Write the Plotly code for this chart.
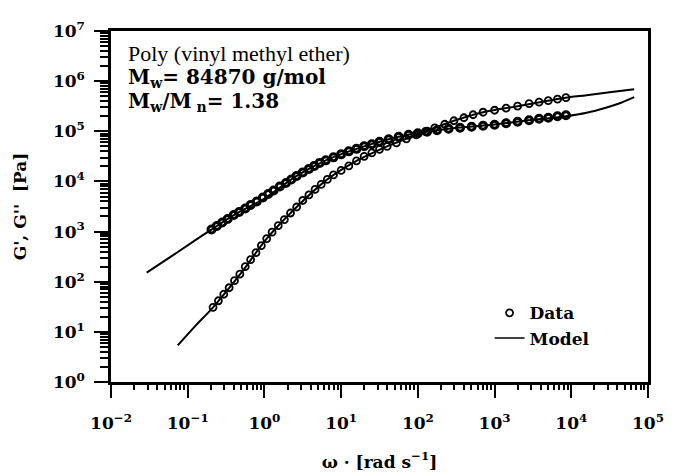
import numpy as np
import plotly.graph_objects as go

# ---- data (log10 values) ----
# G'' (loss modulus) data
loss_log_omega = [-0.69, -0.62, -0.55, -0.48, -0.40, -0.33, -0.25, -0.18, -0.10, -0.02,
                  0.05, 0.12, 0.20, 0.28, 0.35, 0.42, 0.50, 0.58, 0.65, 0.72,
                  0.80, 0.90, 1.00, 1.10, 1.20, 1.30, 1.40, 1.50, 1.62, 1.75,
                  1.88, 2.00, 2.12, 2.25, 2.40, 2.55, 2.70, 2.85, 3.00, 3.15,
                  3.30, 3.45, 3.58, 3.70, 3.82, 3.93]
loss_log_G = [3.04, 3.11, 3.18, 3.25, 3.33, 3.39, 3.46, 3.53, 3.60, 3.68,
              3.75, 3.82, 3.90, 3.97, 4.04, 4.11, 4.18, 4.25, 4.31, 4.37,
              4.42, 4.48, 4.54, 4.60, 4.65, 4.70, 4.74, 4.79, 4.84, 4.89,
              4.93, 4.96, 4.99, 5.02, 5.05, 5.07, 5.09, 5.11, 5.13, 5.16,
              5.19, 5.22, 5.25, 5.27, 5.30, 5.32]

# G' (storage modulus) data
stor_log_omega = [-0.67, -0.60, -0.53, -0.46, -0.39, -0.32, -0.25, -0.18, -0.11, -0.04,
                  0.03, 0.10, 0.18, 0.26, 0.34, 0.42, 0.50, 0.58, 0.66, 0.74,
                  0.82, 0.90, 1.00, 1.10, 1.20, 1.30, 1.40, 1.50, 1.60, 1.72,
                  1.85, 1.98, 2.10, 2.22, 2.35, 2.47, 2.60, 2.72, 2.85, 3.00,
                  3.15, 3.30, 3.45, 3.58, 3.70, 3.82, 3.93]
stor_log_G = [1.49, 1.62, 1.75, 1.88, 2.02, 2.15, 2.30, 2.44, 2.58, 2.72,
              2.86, 2.99, 3.12, 3.24, 3.37, 3.49, 3.62, 3.73, 3.84, 3.94,
              4.04, 4.13, 4.22, 4.31, 4.41, 4.50, 4.57, 4.64, 4.70, 4.77,
              4.85, 4.93, 5.00, 5.07, 5.14, 5.21, 5.27, 5.33, 5.38, 5.42,
              5.46, 5.50, 5.55, 5.58, 5.61, 5.64, 5.67]

# Model curves
model_loss_log_omega = [-1.535, -1.2, -0.9, -0.69, -0.4, 0.0, 0.42, 0.8, 1.3, 1.9,
                        2.4, 2.9, 3.4, 3.93, 4.2, 4.45, 4.65, 4.82]
model_loss_log_G = [2.18, 2.52, 2.83, 3.04, 3.33, 3.66, 4.11, 4.42, 4.70, 4.94,
                    5.05, 5.12, 5.21, 5.30, 5.37, 5.47, 5.57, 5.68]
model_stor_log_omega = [-1.13, -0.9, -0.67, -0.3, 0.03, 0.42, 0.82, 1.2, 1.6, 2.0,
                        2.47, 2.85, 3.3, 3.93, 4.2, 4.5, 4.82]
model_stor_log_G = [0.73, 1.12, 1.49, 2.18, 2.86, 3.49, 4.04, 4.41, 4.70, 4.94,
                    5.21, 5.38, 5.50, 5.67, 5.72, 5.78, 5.84]

# tick exponents
x_exponents = [-2, -1, 0, 1, 2, 3, 4, 5]
y_exponents = [0, 1, 2, 3, 4, 5, 6, 7]

text_lines = ["Poly (vinyl methyl ether)",
              "M<sub>w</sub>= 84870 g/mol",
              "M<sub>w</sub>/M<sub> n</sub>= 1.38"]


def p(a):
    return 10 ** np.array(a, dtype=float)


def labels(exps):
    return ["10<sup>%s</sup>" % (str(e).replace("-", "−")) for e in exps]


def minors(exps):
    return [float(m * 10.0 ** e) for e in exps[:-1] for m in range(2, 10)]


fig = go.Figure()
serif = "DejaVu Serif"

fig.add_trace(go.Scatter(x=p(model_loss_log_omega), y=p(model_loss_log_G), mode="lines",
                         line=dict(color="black", width=2, shape="spline"),
                         name="Model", showlegend=False))
fig.add_trace(go.Scatter(x=p(model_stor_log_omega), y=p(model_stor_log_G), mode="lines",
                         line=dict(color="black", width=2, shape="spline"),
                         name="Model", showlegend=False))
fig.add_trace(go.Scatter(x=p(loss_log_omega), y=p(loss_log_G), mode="markers",
                         marker=dict(symbol="circle-open", size=7, color="black",
                                     line=dict(width=3, color="black")),
                         name="Data", showlegend=False))
fig.add_trace(go.Scatter(x=p(stor_log_omega), y=p(stor_log_G), mode="markers",
                         marker=dict(symbol="circle-open", size=7, color="black",
                                     line=dict(width=1.8, color="black")),
                         name="Data", showlegend=True))
fig.add_trace(go.Scatter(x=[None], y=[None], mode="lines",
                         line=dict(color="black", width=1.5),
                         name="Model", showlegend=True))
# invisible trace to activate the minor-tick overlay axes
fig.add_trace(go.Scatter(x=[1], y=[1], xaxis="x2", yaxis="y2", mode="markers",
                         marker=dict(opacity=0), showlegend=False, hoverinfo="skip"))

tickfont = dict(family=serif, size=17, color="black", weight="bold")
common = dict(type="log", showgrid=False, zeroline=False, automargin=False)

fig.update_layout(
    xaxis=dict(**common, range=[-2, 5],
               tickmode="array", tickvals=p(x_exponents), ticktext=labels(x_exponents),
               showline=True, linecolor="black", linewidth=2.5, mirror=True,
               ticks="outside", ticklen=13, tickwidth=2, tickcolor="black",
               tickfont=tickfont, ticklabelstandoff=11,
               title=dict(text="ω · [rad s<sup>−1</sup>]",
                          font=dict(family=serif, size=17, color="black", weight="bold"),
                          standoff=24)),
    yaxis=dict(**common, range=[0, 7],
               tickmode="array", tickvals=p(y_exponents), ticktext=labels(y_exponents),
               showline=True, linecolor="black", linewidth=2.5, mirror=True,
               ticks="outside", ticklen=14, tickwidth=2, tickcolor="black",
               tickfont=tickfont, ticklabelstandoff=6,
               title=dict(text="G', G''  [Pa]",
                          font=dict(family=serif, size=17, color="black", weight="bold"),
                          standoff=22)),
    xaxis2=dict(**common, range=[-2, 5], overlaying="x", side="bottom", anchor="y2",
                tickmode="linear", tick0=0, dtick="D1", showticklabels=False,
                ticks="outside", ticklen=7, tickwidth=1.6, tickcolor="black",
                showline=False),
    yaxis2=dict(**common, range=[0, 7], overlaying="y", side="left", anchor="x2",
                tickmode="linear", tick0=0, dtick="D1", showticklabels=False,
                ticks="outside", ticklen=10, tickwidth=1.6, tickcolor="black",
                showline=False),
)

ys = [0.935, 0.866, 0.797]
fonts = [dict(family="Liberation Serif", size=22, color="black"),
         dict(family=serif, size=20, color="black", weight="bold"),
         dict(family=serif, size=20, color="black", weight="bold")]
for t, yy, f in zip(text_lines, ys, fonts):
    fig.add_annotation(text=t, xref="paper", yref="paper", x=0.028, y=yy,
                       xanchor="left", yanchor="middle", showarrow=False, font=f)

# page body adds an 8 px offset; margins compensate so the plot sits where the reference has it
fig.update_layout(
    width=681, height=476,
    margin=dict(l=103, r=41, t=23, b=102),
    paper_bgcolor="white", plot_bgcolor="white",
    legend=dict(x=0.705, y=0.247, xanchor="left", yanchor="top",
                bgcolor="rgba(0,0,0,0)", borderwidth=0,
                font=dict(family=serif, size=17, color="black", weight="bold"),
                itemwidth=30, tracegroupgap=2),
)

fig.write_html("out.html")
